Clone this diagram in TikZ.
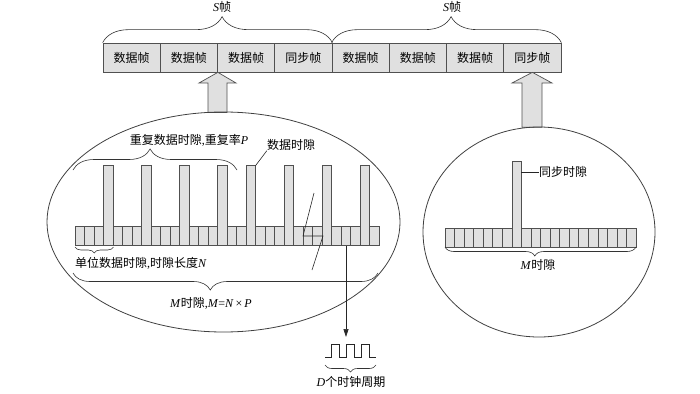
\documentclass[tikz,border=0pt]{standalone}
\usepackage{fontspec}
\setmainfont{Liberation Serif}
\newfontfamily\cjk{Noto Sans CJK SC}
\usetikzlibrary{shapes.geometric,decorations.pathreplacing,arrows.meta,calc}
\definecolor{slotgray}{RGB}{224,224,224}
\definecolor{edgegray}{RGB}{80,80,80}
\begin{document}
\begin{tikzpicture}[x=1pt,y=-1pt,
  framecell/.style={draw=edgegray,fill=slotgray,line width=0.7pt,minimum width=57.25pt,minimum height=29pt,inner sep=0pt,font=\fontsize{12}{14}\cjk},
  slot/.style={draw=edgegray,fill=slotgray,line width=0.6pt},
  bigarrow/.style={draw=edgegray,fill=slotgray,line width=0.7pt},
  lbl/.style={inner sep=0pt,font=\fontsize{12}{14}\selectfont},
  bracebase/.style={draw=black!80,line width=0.6pt,decorate},
  ring/.style={ellipse,draw=black!75,line width=0.8pt,inner sep=0pt},
  thinline/.style={draw=black!85,line width=0.6pt},
]
\useasboundingbox (0,0) rectangle (700,393);

% top frame
\foreach \t [count=\i] in {数据帧,数据帧,数据帧,同步帧,数据帧,数据帧,数据帧,同步帧}
  \node[framecell] (f\i) at ({103+57.25*(\i-0.5)},57.5) {\t};

% S braces
\draw[bracebase,decoration={brace,amplitude=26pt,aspect=0.52}] (f1.north west) -- (f4.north east);
\draw[bracebase,decoration={brace,amplitude=26pt,aspect=0.52}] (f5.north west) -- (f8.north east);
\node[lbl] (sL) at (222,7) {\textit{S}{\cjk 帧}};
\node[lbl] (sR) at (452,7) {\textit{S}{\cjk 帧}};

% big up arrows
\filldraw[bigarrow] (f2.south east) -- (236,83) -- (227,83) -- (227,112.4) -- (208,112.4) -- (208,83) -- (199,83) -- cycle;
\filldraw[bigarrow] (f8.south) -- (552,83) -- (542,83) -- (542,127.3) -- (522,127.3) -- (522,83) -- (512,83) -- cycle;

% ellipses
\node[ring,minimum width=353pt,minimum height=220pt] (E1) at (223.5,222) {};
\node[ring,minimum width=232pt,minimum height=210pt] (E2) at (539,232) {};

% left slot bar
\foreach \k in {0,...,31}
  \filldraw[slot] ({75+9.5*\k},226) rectangle +(9.5,19.7);
\foreach \k in {3,7,11,15,18,22,26,30}
  \filldraw[slot] ({75+9.5*\k},165.7) rectangle +(9.5,80);

% right slot bar
\foreach \k in {0,...,19}
  \filldraw[slot] ({445+9.55*\k},228) rectangle +(9.55,19);
\filldraw[slot] ({445+9.55*7},161.7) rectangle +(9.55,85.3);

% labels left
\node[lbl] (rep) at (189,140) {{\cjk 重复数据时隙},{\cjk 重复率}\textit{P}};
\draw[bracebase,decoration={brace,amplitude=21pt,aspect=0.47}] (73,170) -- (237,170);
\node[lbl] (dsl) at (291,145) {\cjk 数据时隙};
\coordinate (ds) at (255.5,165.7);
\draw[thinline] (ds) -- (dsl.south west);

\draw[bracebase,decoration={brace,amplitude=6pt,aspect=0.5}] (113.5,247) -- (75,247);
\node[lbl] (unit) at (141,263) {{\cjk 单位数据时隙},{\cjk 时隙长度}\textit{N}};

\draw[bracebase,decoration={brace,amplitude=17pt,aspect=0.55}] (378,273) -- (73,273);
\node[lbl] (mall) at (211,303) {\textit{M}{\cjk 时隙},\textit{M}=\textit{N}\,×\,\textit{P}};

% break mark
\coordinate (b1) at (314,193);
\coordinate (b2) at (303,236);
\coordinate (b3) at (323,236);
\coordinate (b4) at (312,270);
\draw[thinline] (b1) -- (b2) -- (b3) -- (b4);

% down arrow to clock
\coordinate (dstart) at (346,245.7);
\coordinate (dend) at (346,337);
\draw[thinline,-{Triangle[length=8pt,width=5pt]}] (dstart) -- (dend);

% clock
\draw[thinline] (325,357) -- (331.7,357) -- (331.7,344) -- (339.3,344) -- (339.3,357) -- (346.7,357) -- (346.7,344) -- (354.3,344) -- (354.3,357) -- (361.7,357) -- (361.7,344) -- (369.3,344) -- (369.3,357) -- (376,357);
\draw[bracebase,decoration={brace,amplitude=7pt,aspect=0.5}] (376,365) -- (325,365);
\node[lbl] (dclk) at (351,382) {\textit{D}{\cjk 个时钟周期}};

% right labels
\node[lbl,anchor=west] (syn) at (539,172) {\cjk 同步时隙};
\coordinate (ss) at ({445+9.55*8},172);
\draw[thinline] (ss) -- (syn.west);
\draw[bracebase,decoration={brace,amplitude=9pt,aspect=0.53}] (636,247) -- (445,247);
\node[lbl] (mR) at (538,265) {\textit{M}{\cjk 时隙}};
\end{tikzpicture}
\end{document}
